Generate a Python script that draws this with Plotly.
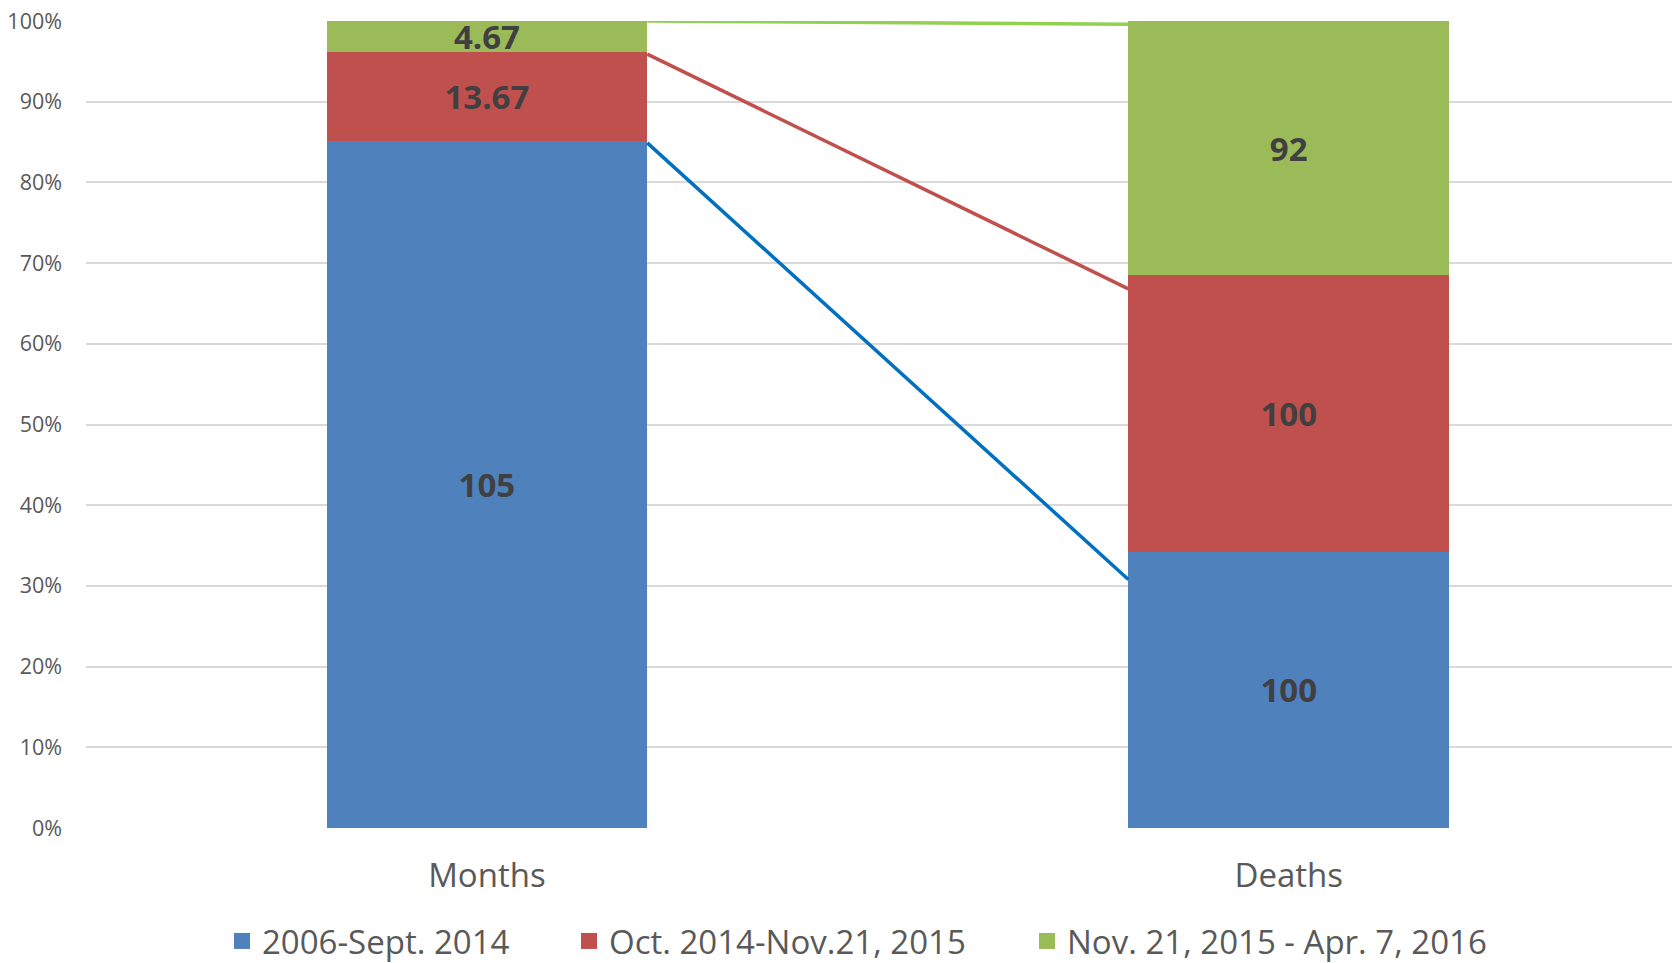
import plotly.graph_objects as go

# ---- data ----
categories = ["Months", "Deaths"]
series_names = ["2006-Sept. 2014", "Oct. 2014-Nov.21, 2015", "Nov. 21, 2015 - Apr. 7, 2016"]
period1 = [105, 100]
period2 = [13.67, 100]
period3 = [4.67, 92]
label1 = ["105", "100"]
label2 = ["13.67", "100"]
label3 = ["4.67", "92"]
# connector lines (percent position at Months bar right edge -> Deaths bar left edge)
connector_blue = [84.9, 30.8]
connector_red = [95.9, 66.8]
connector_green = [100.0, 99.6]
y_tickvals = [0, 10, 20, 30, 40, 50, 60, 70, 80, 90, 100]
y_ticktext = ["0%", "10%", "20%", "30%", "40%", "50%", "60%", "70%", "80%", "90%", "100%"]

bar_colors = ["#4F81BD", "#C0504D", "#9BBB59"]
line_colors = ["#0070C0", "#C0504D", "#92D050"]

FONT = "Open Sans, sans-serif"
PAGE_OFF = 8  # default body margin of the html page
W, H = 1680 - PAGE_OFF, 963 - PAGE_OFF
ML, MR, MT, MB = 86 - PAGE_OFF, 0, 21 - PAGE_OFF, 135
PW = W - ML - MR
PH = H - MT - MB

xpos = list(range(len(categories)))
bar_w = 0.4

fig = go.Figure()
series = [(period1, label1), (period2, label2), (period3, label3)]
for i, (vals, labs) in enumerate(series):
    fig.add_trace(go.Bar(
        x=xpos, y=vals, width=bar_w, name=series_names[i],
        marker=dict(color=bar_colors[i], line=dict(width=0)),
        text=labs, textposition="inside", insidetextanchor="middle",
        constraintext="none", cliponaxis=False,
        textfont=dict(family=FONT, size=33, color="#404040", weight="bold"),
        showlegend=False, hoverinfo="skip",
    ))

conn_x = [xpos[0] + bar_w / 2, xpos[1] - bar_w / 2]
for ys, col in zip([connector_blue, connector_red, connector_green], line_colors):
    fig.add_trace(go.Scatter(
        x=conn_x, y=ys, mode="lines", line=dict(color=col, width=3.5),
        showlegend=False, hoverinfo="skip", cliponaxis=False,
    ))

# legend entries (one legend per entry for exact placement)
legend_ids = ["legend", "legend2", "legend3"]
text_start_px = [264, 611, 1069]  # page pixels
for i in range(3):
    fig.add_trace(go.Scatter(
        x=[None], y=[None], mode="markers", name=series_names[i],
        marker=dict(symbol="square", size=20, color=bar_colors[i]),
        legend=legend_ids[i], showlegend=True,
    ))

plot_bottom_page = PAGE_OFF + MT + PH
legend_y = -(941 - plot_bottom_page) / PH
legend_common = dict(
    orientation="h", yanchor="middle", y=legend_y, xanchor="left",
    font=dict(family=FONT, size=33, color="#595959"),
    bgcolor="rgba(0,0,0,0)", borderwidth=0,
)
layout_legends = {}
for i, lid in enumerate(legend_ids):
    layout_legends[lid] = dict(legend_common, x=(text_start_px[i] - 42 - PAGE_OFF - ML) / PW)

fig.update_layout(
    width=W, height=H,
    margin=dict(l=ML, r=MR, t=MT, b=MB, autoexpand=False),
    paper_bgcolor="white", plot_bgcolor="white",
    barmode="stack", barnorm="percent",
    font=dict(family=FONT, color="#595959"),
    xaxis=dict(
        range=[-0.5, 1.488], tickmode="array", tickvals=xpos, ticktext=categories,
        showgrid=False, zeroline=False, showline=False, ticks="",
        tickfont=dict(family=FONT, size=33, color="#595959"),
        ticklabelstandoff=25, automargin=False,
    ),
    yaxis=dict(
        range=[0, 100.0001], tickmode="array", tickvals=y_tickvals, ticktext=y_ticktext,
        showgrid=True, gridcolor="#D9D9D9", gridwidth=2,
        zeroline=False, showline=False, ticks="",
        tickfont=dict(family=FONT, size=21.5, color="#595959"),
        ticklabelstandoff=23, automargin=False, ticklabeloverflow="allow",
    ),
    **layout_legends,
)

fig.write_html("out.html")
